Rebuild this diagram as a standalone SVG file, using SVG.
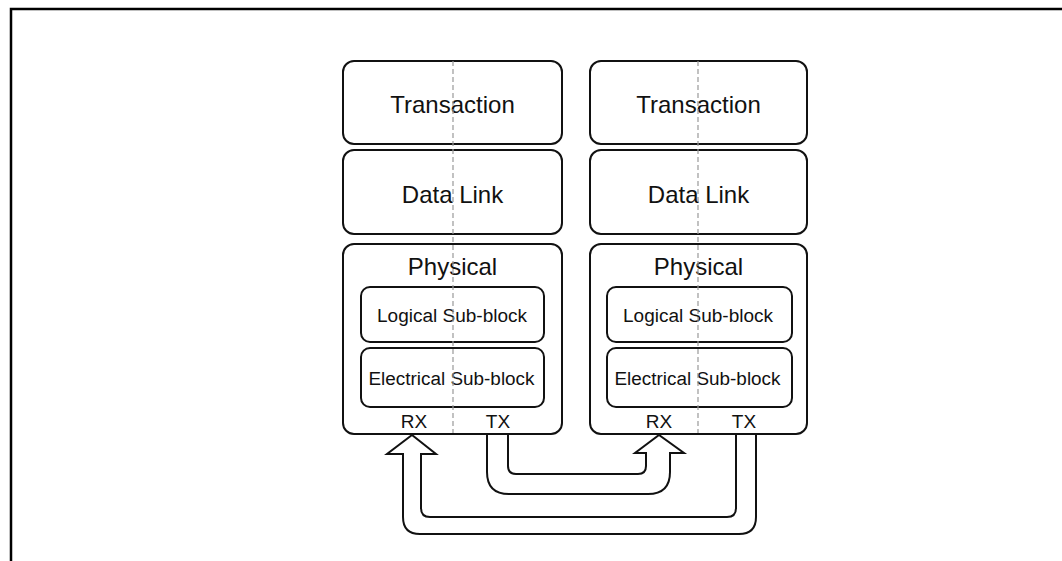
<svg xmlns="http://www.w3.org/2000/svg" width="1062" height="561" viewBox="0 0 1062 561">
<style>
.box{fill:#fff;stroke:#111;stroke-width:2}
.sub{fill:#fff;stroke:#111;stroke-width:2}
.t1{font-family:"Liberation Sans",Arial,sans-serif;font-size:24px;fill:#111;text-anchor:middle}
.t2{font-family:"Liberation Sans",Arial,sans-serif;font-size:18px;fill:#111;text-anchor:middle}
.t3{font-family:"Liberation Sans",Arial,sans-serif;font-size:19px;fill:#111;text-anchor:middle}
.dash{stroke:#999;stroke-width:1.2;stroke-dasharray:5 3;fill:none}
.arrow{fill:#fff;stroke:#111;stroke-width:2;stroke-linejoin:miter}
</style>
<rect width="1062" height="561" fill="#fff"/>
<g id="frame"><path d="M11 561 V9 H1062" fill="none" stroke="#000" stroke-width="2.5"/></g>

<g id="left-transaction"><rect class="box" x="343" y="61" width="219" height="83" rx="11"/><text class="t1" x="452.5" y="113">Transaction</text></g>
<g id="left-datalink"><rect class="box" x="343" y="150" width="219" height="84" rx="11"/><text class="t1" x="452.5" y="203">Data Link</text></g>
<g id="left-physical"><rect class="box" x="343" y="244" width="219" height="190" rx="11"/><text class="t1" x="452.5" y="275">Physical</text>
<text class="t3" x="414" y="428">RX</text><text class="t3" x="498" y="428">TX</text></g>
<g id="left-logical"><rect class="sub" x="361" y="287" width="183" height="55" rx="9"/><text class="t2" x="452" y="322" textLength="150" lengthAdjust="spacingAndGlyphs">Logical Sub-block</text></g>
<g id="left-electrical"><rect class="sub" x="361" y="348" width="183" height="59" rx="9"/><text class="t2" x="451.5" y="385" textLength="166" lengthAdjust="spacingAndGlyphs">Electrical Sub-block</text></g>

<g id="right-transaction"><rect class="box" x="590" y="61" width="217" height="83" rx="11"/><text class="t1" x="698.5" y="113">Transaction</text></g>
<g id="right-datalink"><rect class="box" x="590" y="150" width="217" height="84" rx="11"/><text class="t1" x="698.5" y="203">Data Link</text></g>
<g id="right-physical"><rect class="box" x="590" y="244" width="217" height="190" rx="11"/><text class="t1" x="698.5" y="275">Physical</text>
<text class="t3" x="659" y="428">RX</text><text class="t3" x="744" y="428">TX</text></g>
<g id="right-logical"><rect class="sub" x="607" y="287" width="185" height="55" rx="9"/><text class="t2" x="698" y="322" textLength="150" lengthAdjust="spacingAndGlyphs">Logical Sub-block</text></g>
<g id="right-electrical"><rect class="sub" x="607" y="348" width="185" height="59" rx="9"/><text class="t2" x="697.5" y="385" textLength="166" lengthAdjust="spacingAndGlyphs">Electrical Sub-block</text></g>

<g id="dividers">
<line class="dash" x1="453" y1="61" x2="453" y2="433"/>
<line class="dash" x1="698" y1="61" x2="698" y2="433"/>
</g>

<g id="connectors">
<path class="arrow" d="M756 435 V517 Q756 534 739 534 H420 Q403 534 403 517 V454 H387 L412 435 L436 454 H421 V508 Q421 517 430 517 H727 Q736 517 736 508 V435"/>
<path class="arrow" d="M487 435 V472 Q487 494 509 494 H648 Q670 494 670 472 V453 H684 L659 435 L635 453 H646 V466 Q646 474 638 474 H516 Q508 474 508 466 V435"/>
</g>
</svg>
